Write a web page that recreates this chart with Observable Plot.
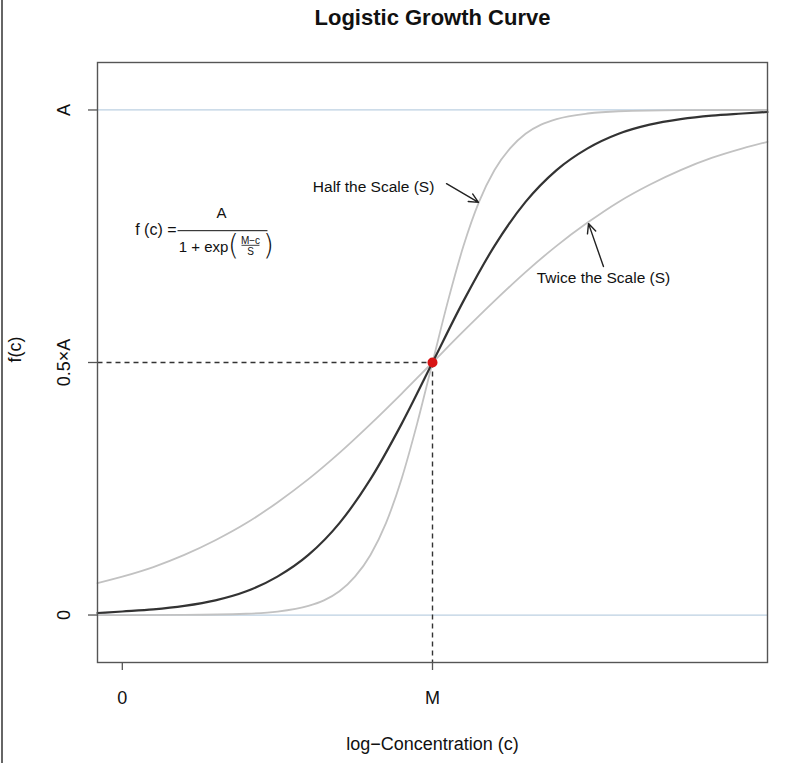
<!DOCTYPE html>
<html>
<head>
<meta charset="utf-8">
<script src="https://cdn.jsdelivr.net/npm/d3@7"></script>
<script src="https://cdn.jsdelivr.net/npm/@observablehq/plot@0.6"></script>
<style>
  body { margin: 0; background: #fff; }
  #wrap { position: relative; width: 788px; height: 763px; overflow: hidden; }
  #edge { position: absolute; left: 1px; top: 0; width: 2px; height: 763px; background: #666; }
</style>
</head>
<body>
<div id="wrap"><div id="edge"></div></div>
<script>
// Sample positions along log-concentration (M = 5 in data units)
const xs = [-0.4, 0, 0.5, 1, 1.5, 2, 2.5, 3, 3.5, 4, 4.5, 5, 5.5, 6, 6.5, 7, 7.5, 8, 8.5, 9, 9.5, 10, 10.4];
// f(c), as fractions of A
const baseCurve  = [0.004, 0.007, 0.011, 0.018, 0.029, 0.047, 0.076, 0.119, 0.182, 0.269, 0.378, 0.5, 0.622, 0.731, 0.818, 0.881, 0.924, 0.953, 0.971, 0.982, 0.989, 0.993, 0.996];
const twiceScale = [0.063, 0.076, 0.095, 0.119, 0.148, 0.182, 0.223, 0.269, 0.321, 0.378, 0.438, 0.5, 0.562, 0.622, 0.679, 0.731, 0.777, 0.818, 0.852, 0.881, 0.905, 0.924, 0.937];
// the steep curve is read at closer positions
const halfXs    = [-0.4, 0, 1, 2, 2.5, 3, 3.25, 3.5, 3.75, 4, 4.25, 4.5, 4.75, 5, 5.25, 5.5, 5.75, 6, 6.25, 6.5, 6.75, 7, 7.5, 8, 9, 10, 10.4];
const halfScale = [0, 0, 0.0003, 0.0025, 0.0067, 0.018, 0.029, 0.047, 0.076, 0.119, 0.182, 0.269, 0.378, 0.5, 0.622, 0.731, 0.818, 0.881, 0.924, 0.953, 0.971, 0.982, 0.993, 0.9975, 0.9997, 1, 1];

const midX = 5;        // M
const midY = 0.5;      // 0.5 x A
const xTickValues = [0, 5];
const xTickLabels = ["0", "M"];
const yTickValues = [0, 0.5, 1];
const yTickLabels = ["0", "0.5×A", "A"];
const refLines = [0, 1];

const titleText = "Logistic Growth Curve";
const xTitle = "log−Concentration (c)";
const yTitle = "f(c)";

// annotations (data coordinates)
const annHalf  = {text: "Half the Scale (S)", x: 4.05, y: 0.848, ax1: 5.226, ay1: 0.854, ax2: 5.741, ay2: 0.817};
const annTwice = {text: "Twice the Scale (S)", x: 7.756, y: 0.668, ax1: 7.756, ay1: 0.690, ax2: 7.515, ay2: 0.775};
const formula  = {x: 1.615, y: 0.761, barX1: 0.89, barX2: 2.34, subX1: 1.921, subX2: 2.211, subY: 0.732};

const xDomain = [-0.4, 10.4];
const yDomain = [-0.094, 1.094];

const toRows = (xv, ys) => xv.map((x, i) => ({x, y: ys[i]}));
const font = "Liberation Sans, Arial, Helvetica, sans-serif";

const chart = Plot.plot({
  width: 788,
  height: 763,
  marginLeft: 97,
  marginRight: 21,
  marginTop: 62,
  marginBottom: 101,
  style: {fontFamily: font, background: "transparent", overflow: "visible"},
  x: {domain: xDomain},
  y: {domain: yDomain},
  marks: [
    // reference lines at 0 and A
    Plot.ruleY(refLines, {stroke: "#bcd0e2", strokeWidth: 1.2}),
    // curves
    Plot.line(toRows(xs, twiceScale), {x: "x", y: "y", stroke: "#c2c2c2", strokeWidth: 1.8, curve: "monotone-x"}),
    Plot.line(toRows(halfXs, halfScale), {x: "x", y: "y", stroke: "#c2c2c2", strokeWidth: 1.8, curve: "monotone-x"}),
    Plot.line(toRows(xs, baseCurve), {x: "x", y: "y", stroke: "#333", strokeWidth: 2.2, curve: "monotone-x"}),
    // dashed guides
    Plot.link([{x1: xDomain[0], y1: midY, x2: midX, y2: midY}, {x1: midX, y1: midY, x2: midX, y2: yDomain[0]}],
      {x1: "x1", y1: "y1", x2: "x2", y2: "y2", stroke: "#333", strokeWidth: 1.4, strokeDasharray: "5,4"}),
    // midpoint
    Plot.dot([{x: midX, y: midY}], {x: "x", y: "y", r: 5, fill: "#d81414", stroke: "none"}),
    // frame
    Plot.frame({stroke: "#555", strokeWidth: 1.4}),
    // axes ticks
    Plot.axisX({ticks: xTickValues, tickSize: 8, tickFormat: () => "", label: null, stroke: "#555", strokeWidth: 1.3}),
    Plot.axisY({ticks: yTickValues, tickSize: 9, tickFormat: () => "", label: null, stroke: "#555", strokeWidth: 1.3}),
    // tick labels
    Plot.text(xTickValues, {x: d => d, text: (d, i) => xTickLabels[i], frameAnchor: "bottom", dy: 36, lineAnchor: "middle", fontSize: 18, fill: "#111"}),
    Plot.text(yTickValues, {y: d => d, text: (d, i) => yTickLabels[i], frameAnchor: "left", dx: -33, rotate: -90, textAnchor: "middle", lineAnchor: "middle", fontSize: 18, fill: "#111"}),
    // titles
    Plot.text([titleText], {frameAnchor: "top", dy: -45, fontSize: 22, fontWeight: "bold", fill: "#111", lineAnchor: "middle"}),
    Plot.text([xTitle], {frameAnchor: "bottom", dy: 82, fontSize: 18, fill: "#111", lineAnchor: "middle"}),
    Plot.text([yTitle], {frameAnchor: "left", dx: -82, rotate: -90, fontSize: 18, fill: "#111", lineAnchor: "middle"}),
    // annotations
    Plot.text([annHalf, annTwice], {x: "x", y: "y", text: "text", fontSize: 15.5, fill: "#111", lineAnchor: "middle"}),
    Plot.arrow([annHalf, annTwice], {x1: "ax1", y1: "ay1", x2: "ax2", y2: "ay2", stroke: "#222", strokeWidth: 1.4, headLength: 11, headAngle: 50, bend: 0}),
    // formula
    Plot.link([formula], {x1: "barX1", x2: "barX2", y1: "y", y2: "y", stroke: "#111", strokeWidth: 1}),
    Plot.link([formula], {x1: "subX1", x2: "subX2", y1: "subY", y2: "subY", stroke: "#111", strokeWidth: 0.8}),
    Plot.text([formula], {x: "x", y: "y", text: () => "f (c) =", dx: -46, dy: -1, textAnchor: "end", lineAnchor: "middle", fontSize: 16, fill: "#111"}),
    Plot.text([formula], {x: "x", y: "y", text: () => "A", dx: -1, dy: -17, lineAnchor: "middle", fontSize: 15, fill: "#111"}),
    Plot.text([formula], {x: "x", y: "y", text: () => "1 + exp", dx: -19, dy: 17, lineAnchor: "middle", fontSize: 15, fill: "#111"}),
    Plot.text([formula], {x: "x", y: "y", text: () => "(", dx: 11, dy: 15, lineAnchor: "middle", fontSize: 28, fontWeight: 200, fontFamily: "DejaVu Sans", fill: "#111"}),
    Plot.text([formula], {x: "x", y: "y", text: () => ")", dx: 46, dy: 15, lineAnchor: "middle", fontSize: 28, fontWeight: 200, fontFamily: "DejaVu Sans", fill: "#111"}),
    Plot.text([formula], {x: "x", y: "y", text: () => "M−c", dx: 28, dy: 10, lineAnchor: "middle", fontSize: 10, fill: "#111"}),
    Plot.text([formula], {x: "x", y: "y", text: () => "S", dx: 28, dy: 21, lineAnchor: "middle", fontSize: 10, fill: "#111"})
  ]
});
document.getElementById("wrap").appendChild(chart);
</script>
</body>
</html>
